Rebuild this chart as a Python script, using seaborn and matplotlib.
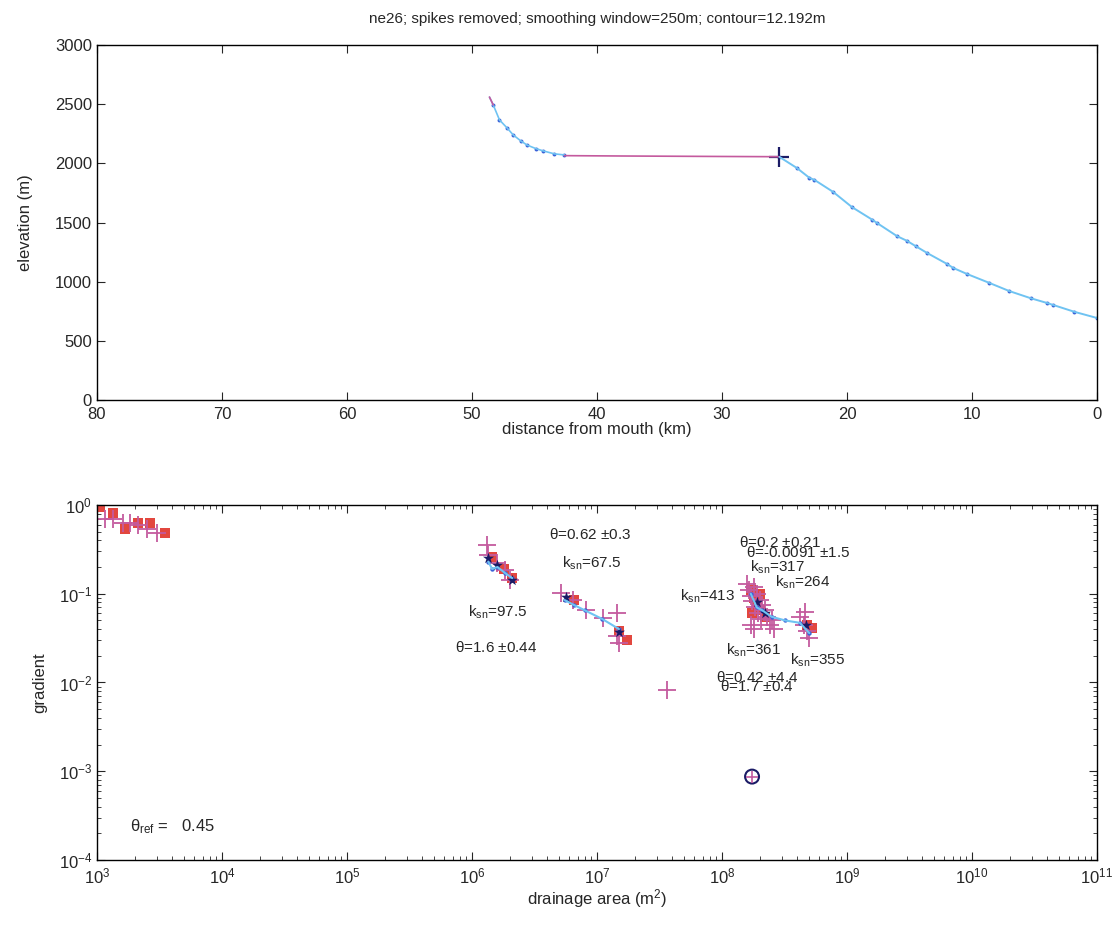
"""Long profile and slope-area plot for stream ne26."""

import numpy as np
import pandas as pd
import matplotlib
matplotlib.use('Agg')
import matplotlib.pyplot as plt
import matplotlib.ticker as mtick
import seaborn as sns

sns.set_style('ticks')
plt.rcParams['font.family'] = ['Liberation Sans', 'DejaVu Sans']
plt.rcParams['mathtext.fontset'] = 'custom'
plt.rcParams['mathtext.rm'] = 'Liberation Sans'
plt.rcParams['mathtext.it'] = 'Liberation Sans'


# Long profile (distance from mouth in km, elevation in m)
dist_upper = [48.6, 48.3, 47.8, 47.2, 46.7, 46.1, 45.6, 44.9, 44.3, 43.4, 42.6]
elev_upper = [2560, 2494, 2367, 2300, 2240, 2190, 2155, 2125, 2105, 2080, 2071]
dist_flat = [42.6, 38.0, 34.0, 30.0, 25.4]
elev_flat = [2065, 2062, 2060, 2058, 2056]
dist_lower = [25.4, 24.0, 23.0, 22.6, 21.1, 19.6, 18.0, 17.6, 16.0, 15.2, 14.5,
              13.6, 12.0, 11.5, 10.4, 8.6, 7.0, 5.3, 4.0, 3.5, 1.8, 0.0]
elev_lower = [2054, 1960, 1877, 1860, 1758, 1630, 1525, 1496, 1385, 1345, 1300,
              1243, 1150, 1116, 1065, 989, 920, 860, 820, 803, 745, 693]
knick_dist = [25.4]
knick_elev = [2056]

# Slope-area data (drainage area m^2, gradient)
sq_area = [1.06e3, 1.34e3, 1.68e3, 2.13e3, 2.65e3, 3.5e3,
           1.45e6, 1.8e6, 2.1e6,
           6.5e6, 1.5e7, 1.75e7,
           1.7e8, 1.8e8, 1.9e8, 2.0e8, 2.2e8, 2.0e8, 1.75e8, 5.25e8, 4.8e8]
sq_grad = [0.95, 0.81, 0.54, 0.63, 0.63, 0.48,
           0.26, 0.19, 0.15,
           0.085, 0.038, 0.030,
           0.11, 0.09, 0.075, 0.065, 0.055, 0.10, 0.06, 0.041, 0.045]

plus_area = [1.16e3, 1.34e3, 1.61e3, 1.84e3, 2.13e3, 2.5e3, 3.0e3,
             1.31e6, 1.35e6, 1.58e6, 1.84e6, 2.01e6,
             5.2e6, 6.46e6, 8.2e6, 1.12e7, 1.44e7, 1.45e7, 1.5e7,
             1.6e8, 1.65e8, 1.7e8, 1.75e8, 1.8e8, 1.85e8, 1.9e8, 1.95e8, 2.0e8,
             2.05e8, 2.1e8, 2.2e8, 2.3e8, 2.4e8, 2.5e8, 2.6e8, 1.7e8, 1.8e8,
             4.2e8, 4.5e8, 4.8e8, 5.0e8, 4.6e8,
             3.6e7]
plus_grad = [0.70, 0.70, 0.63, 0.63, 0.60, 0.54, 0.48,
             0.354, 0.27, 0.22, 0.185, 0.143,
             0.101, 0.085, 0.066, 0.053, 0.060, 0.033, 0.028,
             0.13, 0.11, 0.095, 0.082, 0.12, 0.07, 0.10, 0.06, 0.085,
             0.052, 0.075, 0.065, 0.055, 0.045, 0.050, 0.040, 0.045, 0.040,
             0.055, 0.045, 0.038, 0.032, 0.062,
             0.0083]

star_area = [1.35e6, 1.6e6, 2.1e6, 5.7e6, 1.5e7, 1.9e8, 2.2e8, 4.7e8]
star_grad = [0.25, 0.21, 0.143, 0.093, 0.037, 0.08, 0.06, 0.045]

fit_segment = [1] * 5 + [2] * 5 + [3] * 7
fit_area = [1.35e6, 1.45e6, 1.6e6, 1.85e6, 2.1e6,
            5.5e6, 6.5e6, 8.0e6, 1.1e7, 1.5e7,
            1.7e8, 1.9e8, 2.1e8, 2.5e8, 3.2e8, 4.2e8, 5.0e8]
fit_grad = [0.23, 0.19, 0.20, 0.17, 0.15,
            0.085, 0.075, 0.065, 0.052, 0.040,
            0.10, 0.07, 0.065, 0.055, 0.050, 0.047, 0.036]

circle_area = [1.74e8]
circle_grad = [8.7e-4]

# Fit annotations: text, area, gradient
labels = [
    (r'$\theta$=0.62 $\pm$0.3', 8.8e6, 0.46),
    (r'k$_{sn}$=67.5', 9.0e6, 0.22),
    (r'k$_{sn}$=97.5', 1.6e6, 0.061),
    (r'$\theta$=1.6 $\pm$0.44', 1.55e6, 0.025),
    (r'$\theta$=0.2 $\pm$0.21', 2.9e8, 0.38),
    (r'$\theta$=-0.0091 $\pm$1.5', 4.1e8, 0.295),
    (r'k$_{sn}$=317', 2.8e8, 0.20),
    (r'k$_{sn}$=264', 4.4e8, 0.135),
    (r'k$_{sn}$=413', 7.7e7, 0.093),
    (r'k$_{sn}$=361', 1.8e8, 0.023),
    (r'k$_{sn}$=355', 5.8e8, 0.018),
    (r'$\theta$=0.42 $\pm$4.4', 1.9e8, 0.0115),
    (r'$\theta$=1.7 $\pm$0.4', 1.9e8, 0.0089),
]

title = 'ne26; spikes removed; smoothing window=250m; contour=12.192m'

line_blue = '#6fc3f2'
dot_blue = '#3b62d8'
magenta = '#c45a9e'
red = '#e2473f'
navy = '#1b1b66'

fig = plt.figure(figsize=(11.12, 9.3), dpi=100)
ax1 = fig.add_axes([0.0872, 0.5699, 0.8993, 0.3817])
ax2 = fig.add_axes([0.0872, 0.0753, 0.8993, 0.3817])

# Top panel: long profile
sns.lineplot(x=dist_upper, y=elev_upper, color=line_blue, lw=1.2, sort=False, ax=ax1)
sns.scatterplot(x=dist_upper[1:], y=elev_upper[1:], color=dot_blue, s=8, linewidth=0, ax=ax1)
sns.lineplot(x=dist_upper[:2], y=elev_upper[:2], color=magenta, lw=1.2, sort=False, ax=ax1)
sns.lineplot(x=dist_flat, y=elev_flat, color=magenta, lw=1.2, sort=False, ax=ax1)
sns.lineplot(x=dist_lower, y=elev_lower, color=line_blue, lw=1.4, sort=False, ax=ax1)
sns.scatterplot(x=dist_lower, y=elev_lower, color=dot_blue, s=8, linewidth=0, ax=ax1)
sns.scatterplot(x=knick_dist, y=knick_elev, marker='+', color=navy, s=220, linewidth=1.6, ax=ax1)
ax1.set_xlim(80, 0)
ax1.set_ylim(0, 3000)
ax1.set_xticks(range(80, -1, -10))
ax1.set_yticks(range(0, 3001, 500))
ax1.set_xlabel('distance from mouth (km)', fontsize=12, labelpad=0)
ax1.set_ylabel('elevation (m)', fontsize=12, labelpad=16)
ax1.set_title(title, fontsize=11, pad=16)

# Bottom panel: slope-area
ax2.set_xscale('log')
ax2.set_yscale('log')
fit_df = pd.DataFrame({'segment': fit_segment, 'area': fit_area, 'grad': fit_grad})
sns.scatterplot(x=sq_area, y=sq_grad, marker='s', color=red, s=45, linewidth=0, ax=ax2)
sns.scatterplot(x=plus_area, y=plus_grad, marker='+', color=magenta, s=160, linewidth=1.3, ax=ax2)
sns.lineplot(data=fit_df, x='area', y='grad', units='segment', estimator=None,
             sort=False, color=line_blue, lw=1.5, ax=ax2)
sns.scatterplot(data=fit_df, x='area', y='grad', color=dot_blue, s=10, linewidth=0, ax=ax2)
sns.scatterplot(x=star_area, y=star_grad, marker='*', color=navy, s=70, linewidth=0, ax=ax2)
sns.scatterplot(x=circle_area, y=circle_grad, marker='o', facecolor='none',
                edgecolor=navy, s=100, linewidth=1.5, ax=ax2)
sns.scatterplot(x=circle_area, y=circle_grad, marker='+', color=magenta, s=80, linewidth=1.2, ax=ax2)

for txt, a, g in labels:
    ax2.text(a, g, txt, fontsize=11, ha='center', va='center')
ax2.text(1.85e3, 2.35e-4, r'$\theta_{ref}$ =   0.45', fontsize=12, ha='left', va='center')

ax2.set_xlim(1e3, 1e11)
ax2.set_ylim(1e-4, 1e0)
ax2.xaxis.set_major_locator(mtick.LogLocator(base=10, numticks=20))
ax2.xaxis.set_minor_locator(mtick.LogLocator(base=10, subs=np.arange(2, 10), numticks=20))
ax2.yaxis.set_major_locator(mtick.LogLocator(base=10, numticks=20))
ax2.yaxis.set_minor_locator(mtick.LogLocator(base=10, subs=np.arange(2, 10), numticks=20))
ax2.set_xlabel(r'drainage area (m$^{2}$)', fontsize=12, labelpad=0)
ax2.set_ylabel('gradient', fontsize=12, labelpad=8)

for ax in (ax1, ax2):
    ax.tick_params(which='both', direction='in', top=True, right=True, labelsize=12)
    ax.tick_params(which='major', length=6)
    ax.tick_params(which='minor', length=3)
    ax.tick_params(axis='x', pad=5)
    for sp in ax.spines.values():
        sp.set_visible(True)
        sp.set_color('black')
        sp.set_linewidth(1.0)

fig.savefig('out.png', dpi=100, facecolor='white')
